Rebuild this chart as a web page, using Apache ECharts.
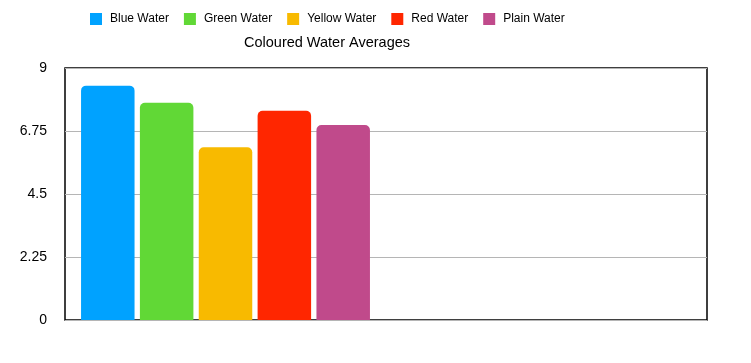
<!DOCTYPE html>
<html>
<head>
<meta charset="utf-8">
<script src="https://cdn.jsdelivr.net/npm/echarts@6/dist/echarts.min.js"></script>
<style>html,body{margin:0;padding:0;background:#fff}#c{width:751px;height:363px}</style>
</head>
<body>
<div id="c"></div>
<script>
var categories = ['Average', ''];
var seriesNames = ['Blue Water', 'Green Water', 'Yellow Water', 'Red Water', 'Plain Water'];
var blueWater = [8.37, null];
var greenWater = [7.76, null];
var yellowWater = [6.17, null];
var redWater = [7.47, null];
var plainWater = [6.96, null];
var yTicks = [0, 2.25, 4.5, 6.75, 9];
var colors = ['#00A2FF', '#61D836', '#F8BA00', '#FF2600', '#C04A8B'];
var values = [blueWater, greenWater, yellowWater, redWater, plainWater];

var font = '"Liberation Sans", Arial, Helvetica, sans-serif';
var chart = echarts.init(document.getElementById('c'));
var series = seriesNames.map(function (n, i) {
  return {
    name: n, type: 'bar', data: values[i],
    barGap: '10%', barCategoryGap: '10%',
    itemStyle: { color: colors[i], borderRadius: [5, 5, 0, 0] }
  };
});
chart.setOption({
  animation: false,
  color: colors,
  title: {
    text: 'Coloured Water Averages', left: 239, top: 30,
    textStyle: { fontFamily: font, fontSize: 14.5, fontWeight: 'normal', color: '#000' }
  },
  legend: {
    left: 85, top: 8, itemWidth: 12, itemHeight: 12, itemGap: 15,
    icon: 'rect',
    textStyle: { fontFamily: font, fontSize: 12, color: '#000', padding: [0, 0, 0, 3] }
  },
  grid: { left: 65, right: 44, top: 68, bottom: 43, show: true, borderColor: '#000', borderWidth: 1.5, containLabel: false },
  xAxis: {
    type: 'category', data: categories,
    axisLine: { show: false }, axisTick: { show: false }, axisLabel: { show: false }
  },
  yAxis: {
    type: 'value', min: yTicks[0], max: yTicks[yTicks.length - 1], interval: 2.25,
    axisLine: { show: false }, axisTick: { show: false },
    axisLabel: { fontFamily: font, fontSize: 14, color: '#000', margin: 18 },
    splitLine: { lineStyle: { color: '#b5b5b5', width: 1 } }
  },
  series: series
});
</script>
</body>
</html>
